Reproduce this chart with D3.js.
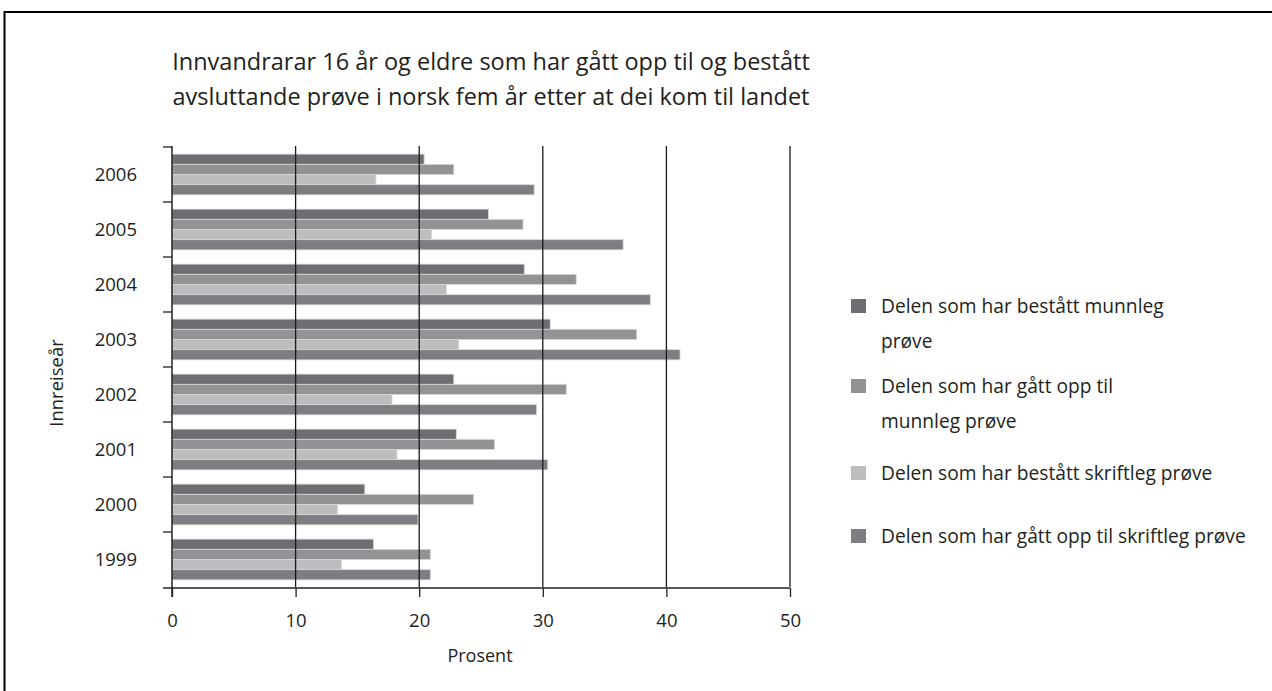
<!DOCTYPE html>
<html>
<head>
<meta charset="utf-8">
<style>
  body { margin: 0; background: #fff; }
  svg text { font-family: "Open Sans", "Noto Sans", sans-serif; fill: #231f20; }
</style>
</head>
<body>
<script src="https://d3js.org/d3.v7.min.js"></script>
<script>
// years, top to bottom as in the chart
var years = ["2006", "2005", "2004", "2003", "2002", "2001", "2000", "1999"];
var seriesNames = [
  "Delen som har bestått munnleg prøve",
  "Delen som har gått opp til munnleg prøve",
  "Delen som har bestått skriftleg prøve",
  "Delen som har gått opp til skriftleg prøve"
];
// values per series, in the same order as years
var bestattMunnleg = [20.4, 25.6, 28.5, 30.6, 22.8, 23.0, 15.6, 16.3];
var oppMunnleg     = [22.8, 28.4, 32.7, 37.6, 31.9, 26.1, 24.4, 20.9];
var bestattSkrift  = [16.5, 21.0, 22.2, 23.2, 17.8, 18.2, 13.4, 13.7];
var oppSkrift      = [29.3, 36.5, 38.7, 41.1, 29.5, 30.4, 19.9, 20.9];
var xTicks = [0, 10, 20, 30, 40, 50];

var seriesValues = [bestattMunnleg, oppMunnleg, bestattSkrift, oppSkrift];
var colors = ["#6e6e72", "#939396", "#bdbdc0", "#7e7e82"];

var W = 1272, H = 691;
var svg = d3.select("body").append("svg")
    .attr("width", W)
    .attr("height", H);

// outer frame (runs off the right and bottom edge)
svg.append("rect")
    .attr("x", 4.5).attr("y", 12)
    .attr("width", 1400).attr("height", 800)
    .attr("fill", "none")
    .attr("stroke", "#000")
    .attr("stroke-width", 2);

var x = d3.scaleLinear().domain([0, 50]).range([172, 790]);
var y = d3.scaleBand().domain(years).range([147, 587]);
var yInner = d3.scaleBand()
    .domain(d3.range(4))
    .range([0, y.bandwidth()])
    .paddingOuter(0.7);

// title
var title = svg.append("text")
    .attr("text-anchor", "middle")
    .style("font-size", "23.5px");
title.append("tspan").attr("x", 491).attr("y", 70)
    .text("Innvandrarar 16 år og eldre som har gått opp til og bestått");
title.append("tspan").attr("x", 491).attr("y", 105)
    .text("avsluttande prøve i norsk fem år etter at dei kom til landet");

// bars
var rows = [];
years.forEach(function(yr, i) {
  seriesValues.forEach(function(vals, s) {
    rows.push({ year: yr, s: s, v: vals[i] });
  });
});

svg.append("g").selectAll("rect")
    .data(rows)
    .enter().append("rect")
      .attr("x", x(0))
      .attr("y", function(d) { return y(d.year) + yInner(d.s); })
      .attr("width", function(d) { return x(d.v) - x(0); })
      .attr("height", yInner.bandwidth())
      .attr("fill", function(d) { return colors[d.s]; })
      .attr("stroke", "#d8d8da")
      .attr("stroke-width", 0.8);

// vertical grid lines
svg.append("g").selectAll("line")
    .data(xTicks.slice(1))
    .enter().append("line")
      .attr("x1", function(d) { return x(d); })
      .attr("x2", function(d) { return x(d); })
      .attr("y1", 146)
      .attr("y2", 587)
      .attr("stroke", "#1a1a1a")
      .attr("stroke-width", 1.3);

// x axis
var xAxis = svg.append("g")
    .attr("transform", "translate(0,588)")
    .call(d3.axisBottom(x).tickValues(xTicks).tickSize(9).tickSizeOuter(0).tickPadding(17));
xAxis.select(".domain").attr("d", "M163,0H790").attr("stroke", "#231f20").attr("stroke-width", 1.5);
xAxis.selectAll(".tick line").attr("stroke", "#231f20").attr("stroke-width", 1.3);
xAxis.selectAll(".tick text").style("font-size", "18.5px").attr("fill", "#231f20");

// y axis (ticks between categories)
var yAxis = svg.append("g")
    .attr("transform", "translate(172,0)");
yAxis.append("line")
    .attr("x1", 0).attr("x2", 0)
    .attr("y1", 146).attr("y2", 597)
    .attr("stroke", "#231f20").attr("stroke-width", 1.5);
yAxis.selectAll(".ytick")
    .data(years)
    .enter().append("line")
      .attr("class", "ytick")
      .attr("x1", -9).attr("x2", 0)
      .attr("y1", function(d) { return y(d); })
      .attr("y2", function(d) { return y(d); })
      .attr("stroke", "#231f20").attr("stroke-width", 1.3);
yAxis.selectAll(".ylabel")
    .data(years)
    .enter().append("text")
      .attr("class", "ylabel")
      .attr("x", -35)
      .attr("y", function(d) { return y(d) + y.bandwidth() / 2; })
      .attr("dy", "0.35em")
      .attr("text-anchor", "end")
      .style("font-size", "18.5px")
      .text(function(d) { return d; });

// axis titles
svg.append("text")
    .attr("x", 480).attr("y", 662)
    .attr("text-anchor", "middle")
    .style("font-size", "18px")
    .text("Prosent");
svg.append("text")
    .attr("transform", "translate(63,383) rotate(-90)")
    .attr("text-anchor", "middle")
    .style("font-size", "18.5px")
    .text("Innreiseår");

// legend
var legendItems = [
  { s: 0, cy: 306, lines: ["Delen som har bestått munnleg", "prøve"] },
  { s: 1, cy: 386, lines: ["Delen som har gått opp til", "munnleg prøve"] },
  { s: 2, cy: 473, lines: ["Delen som har bestått skriftleg prøve"] },
  { s: 3, cy: 536, lines: ["Delen som har gått opp til skriftleg prøve"] }
];
var legend = svg.append("g").selectAll("g")
    .data(legendItems)
    .enter().append("g");
legend.append("rect")
    .attr("x", 851)
    .attr("y", function(d) { return d.cy - 7; })
    .attr("width", 15).attr("height", 14)
    .attr("fill", function(d) { return colors[d.s]; });
legend.append("text")
    .style("font-size", "19.2px")
    .each(function(d) {
      var t = d3.select(this);
      d.lines.forEach(function(line, i) {
        t.append("tspan")
          .attr("x", 881)
          .attr("y", d.cy + 6.5 + i * 35)
          .text(line);
      });
    });
</script>
</body>
</html>
